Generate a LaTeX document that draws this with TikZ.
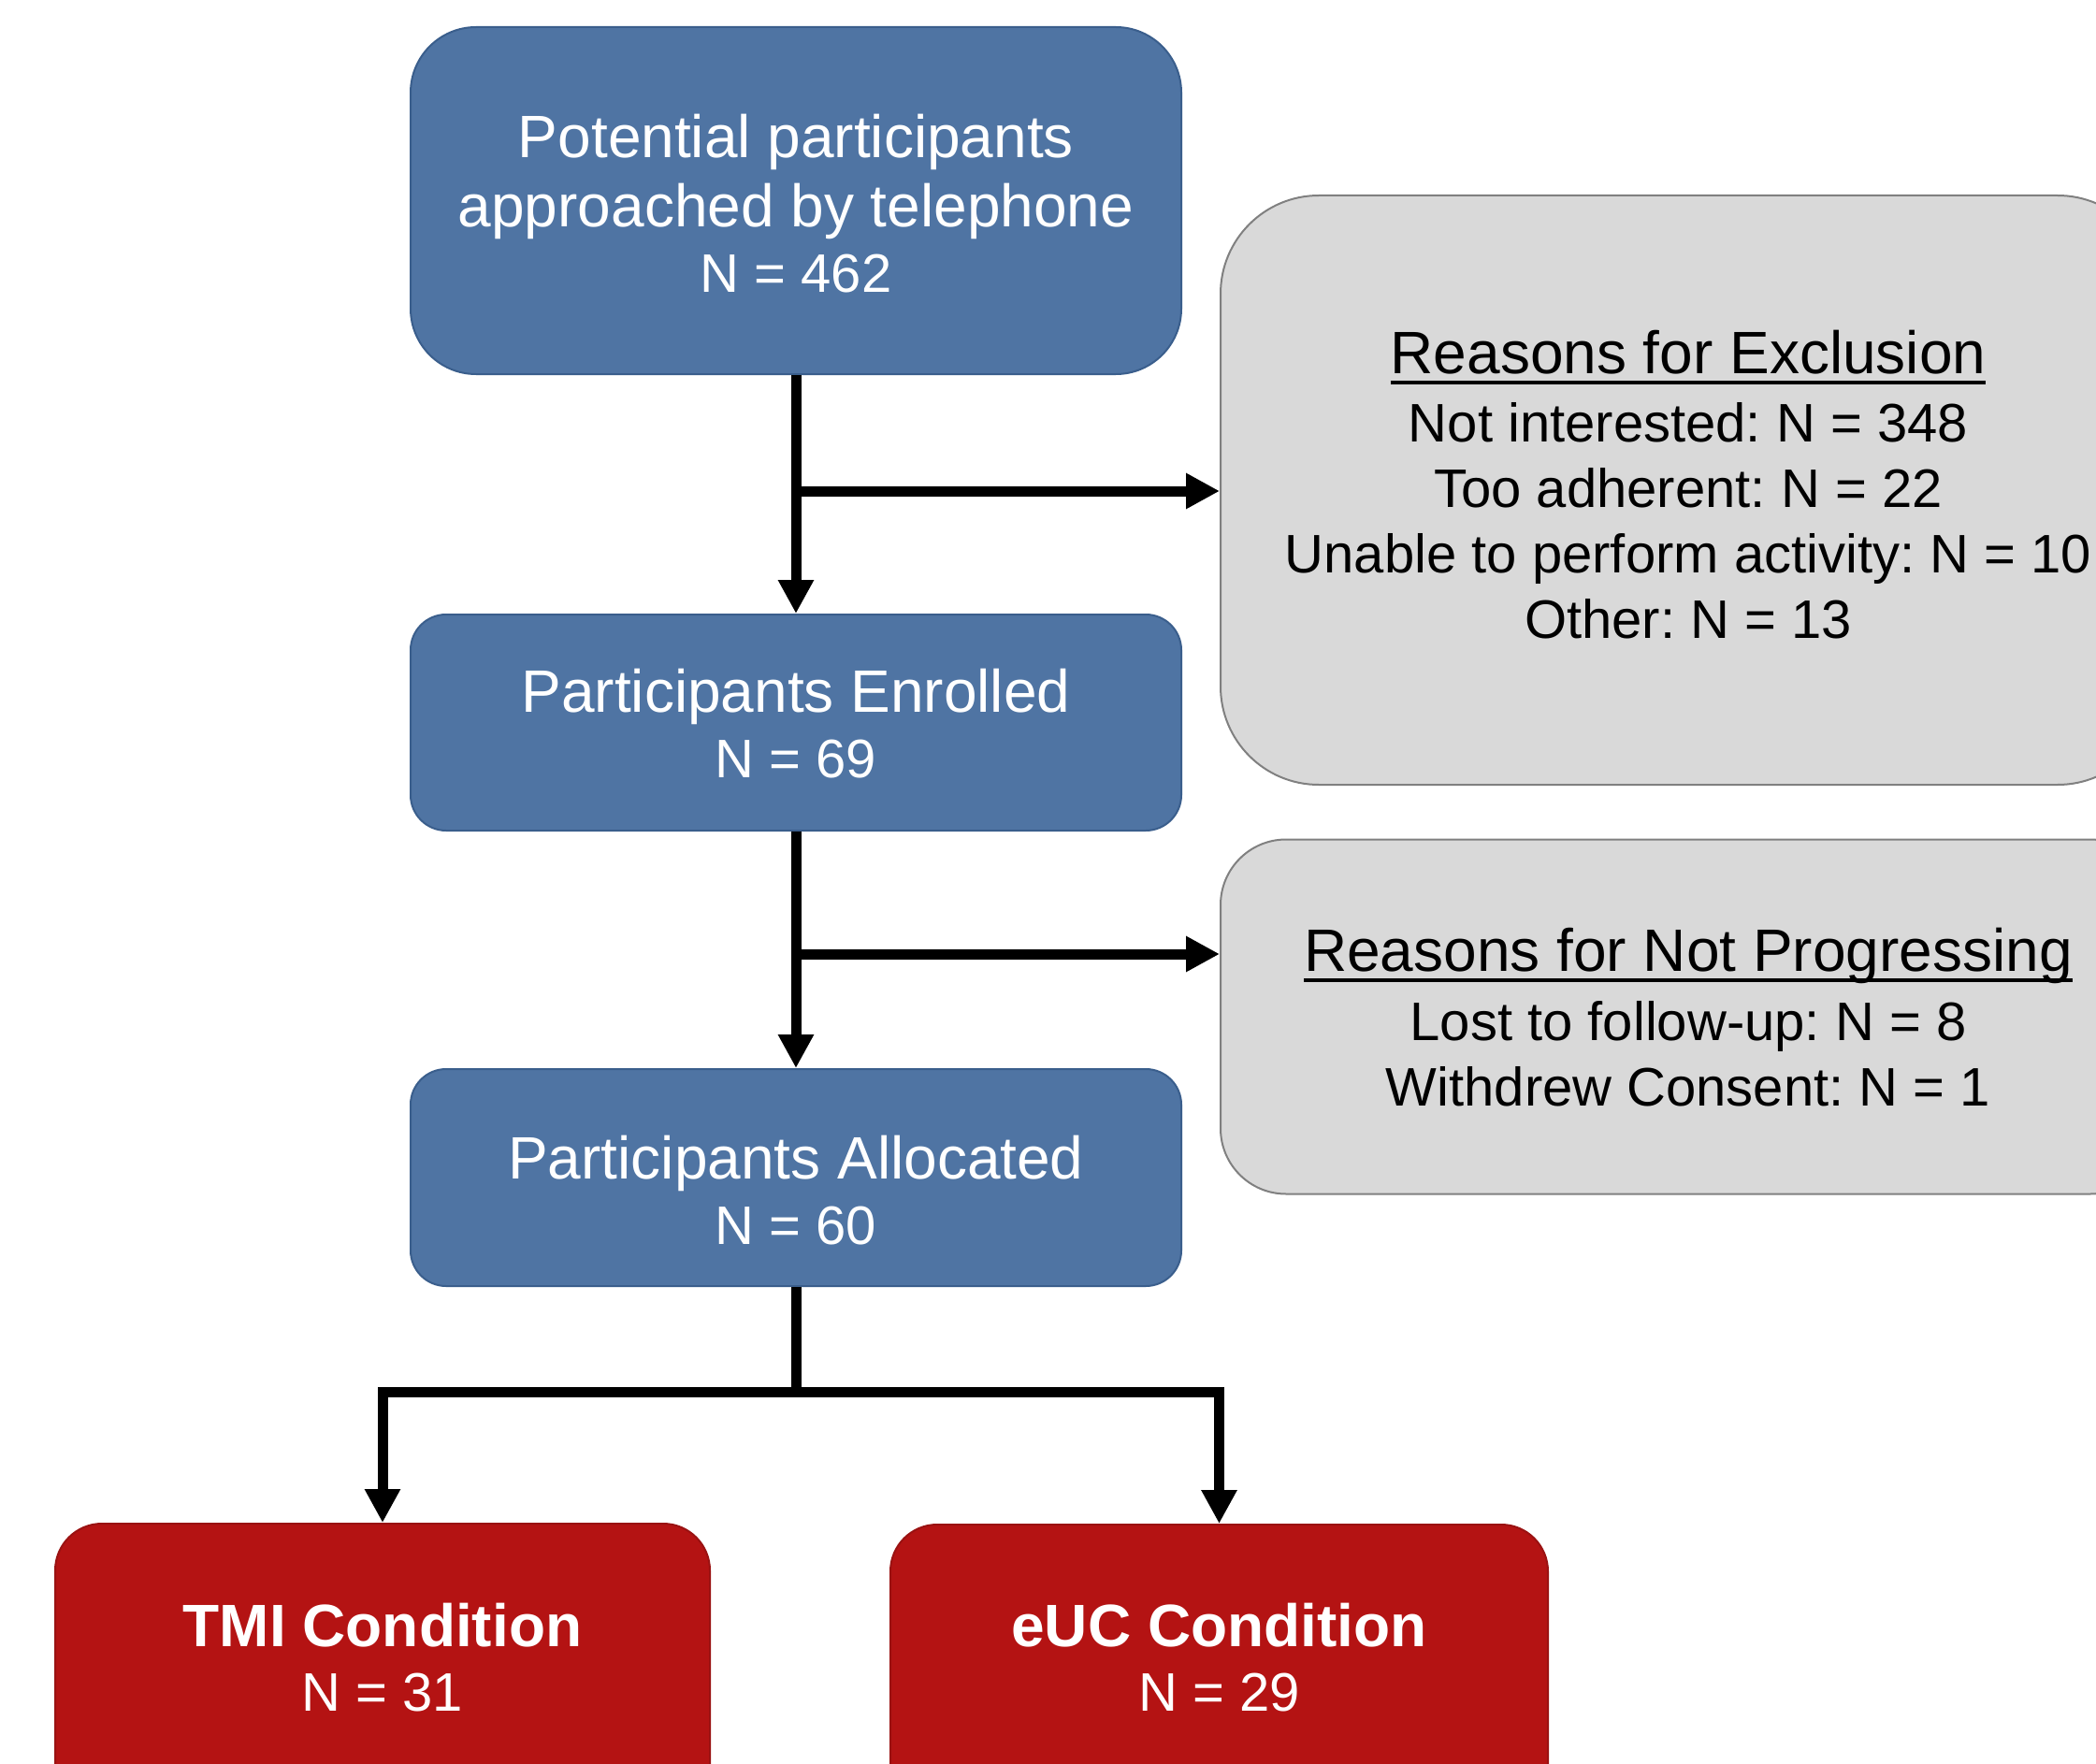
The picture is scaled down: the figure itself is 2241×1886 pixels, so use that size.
\documentclass[tikz,border=0pt]{standalone}
\usepackage{fontspec}
\setmainfont{Liberation Sans}
\usetikzlibrary{arrows.meta,calc}
\definecolor{bluefill}{HTML}{4F74A3}
\definecolor{blueline}{HTML}{3A5E8C}
\definecolor{grayfill}{HTML}{D9D9D9}
\definecolor{grayline}{HTML}{808080}
\definecolor{redfill}{HTML}{B41313}
\definecolor{redline}{HTML}{9A1212}
\newcommand\myul[1]{\setbox0\hbox{#1}\rlap{\rule[-11pt]{\wd0}{4pt}}\box0}
\frenchspacing
\begin{document}
\begin{tikzpicture}[x=1pt,y=-1pt,
  bluebox/.style={draw=blueline, line width=2pt, fill=bluefill, rounded corners=#1, inner sep=0pt},
  graybox/.style={draw=grayline, line width=2pt, fill=grayfill, rounded corners=#1, inner sep=0pt},
  redbox/.style={draw=redline, line width=2pt, fill=redfill, rounded corners=#1, inner sep=0pt},
  whitetxt/.style={font=\fontsize{64}{74}\selectfont\frenchspacing, align=center, text=white, inner sep=0pt},
  whiten/.style={font=\fontsize{58}{70}\selectfont\frenchspacing, align=center, text=white, inner sep=0pt},
  headtxt/.style={font=\fontsize{64}{74}\selectfont\frenchspacing, align=center, text=black, inner sep=0pt},
  listtxt/.style={font=\fontsize{58}{70}\selectfont\frenchspacing, align=center, text=black, inner sep=0pt},
  flowline/.style={line width=11pt, draw=black},
  flowarrow/.style={flowline, -{Triangle[length=36pt,width=36pt]}}]
\useasboundingbox (0,0) rectangle (2241,1886);
\clip (0,0) rectangle (2241,1886);
% boxes
\node[bluebox=70pt, minimum width=824pt, minimum height=371pt] (top) at (851,214.5) {};
\node[graybox=105pt, minimum width=1000pt, minimum height=630pt] (excl) at (1805,524) {};
\node[bluebox=38pt, minimum width=824pt, minimum height=231pt] (enr) at (851,772.5) {};
\node[graybox=70pt, minimum width=1000pt, minimum height=379pt] (np) at (1805,1087) {};
\node[bluebox=38pt, minimum width=824pt, minimum height=232pt] (alloc) at (851,1259) {};
\node[redbox=50pt, minimum width=700pt, minimum height=400pt] (tmi) at (409,1829) {};
\node[redbox=50pt, minimum width=703pt, minimum height=400pt] (euc) at (1303.5,1830) {};
% texts
\node[whitetxt] (toptxt) at (851,188.7) {Potential participants\\approached by telephone};
\node[whiten] (topn) at (851,292.5) {N = 462};
\node[headtxt] (exclhead) at (1805,382) {\myul{Reasons for Exclusion}};
\node[listtxt] (excllist) at (1805,557) {Not interested: N = 348\\Too adherent: N = 22\\Unable to perform activity: N = 10\\Other: N = 13};
\node[whitetxt] (enrtxt) at (851,745.2) {Participants Enrolled};
\node[whiten] (enrn) at (851,812) {N = 69};
\node[headtxt] (nphead) at (1805,1022) {\myul{Reasons for Not Progressing}};
\node[listtxt] (nplist) at (1805,1127) {Lost to follow-up: N = 8\\Withdrew Consent: N = 1};
\node[whitetxt] (alloctxt) at (851,1244.2) {Participants Allocated};
\node[whiten] (allocn) at (851,1310.5) {N = 60};
\node[whitetxt] (tmitxt) at (409,1737.5) {\textbf{TMI Condition}};
\node[whiten] (tmin) at (409,1810) {N = 31};
\node[whitetxt] (euctxt) at (1303.5,1737.5) {\textbf{eUC Condition}};
\node[whiten] (eucn) at (1303.5,1810) {N = 29};
% connectors
\coordinate (b1) at (851,525);
\coordinate (b2) at (851,1020);
\coordinate (split) at (851,1488);
\draw[flowarrow] (top.south) -- (enr.north);
\draw[flowarrow] (b1) -- (b1 -| excl.west);
\draw[flowarrow] (enr.south) -- (alloc.north);
\draw[flowarrow] (b2) -- (b2 -| np.west);
\draw[flowline] (alloc.south) -- (split);
\draw[flowarrow] (split) -| (tmi.north);
\draw[flowarrow] (split) -| (euc.north);
\end{tikzpicture}
\end{document}
